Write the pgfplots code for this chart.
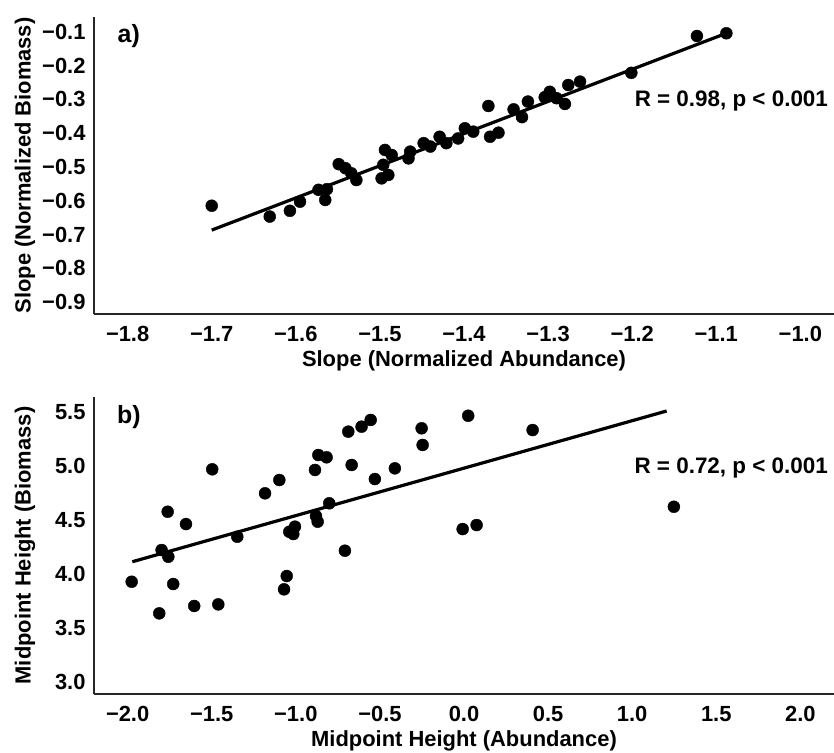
\documentclass[border=0pt]{standalone}
\usepackage{fontspec}
\setmainfont{Liberation Sans}
\usepackage{pgfplots}
\usepackage{pgfplotstable}
\pgfplotsset{compat=1.18}

\pgfplotstableread{
x y
-1.700 -0.619
-1.631 -0.651
-1.607 -0.634
-1.595 -0.607
-1.573 -0.572
-1.565 -0.602
-1.563 -0.570
-1.549 -0.496
-1.541 -0.508
-1.534 -0.523
-1.528 -0.543
-1.498 -0.538
-1.496 -0.498
-1.494 -0.454
-1.490 -0.528
-1.486 -0.469
-1.466 -0.479
-1.464 -0.459
-1.448 -0.434
-1.440 -0.444
-1.429 -0.415
-1.421 -0.434
-1.407 -0.420
-1.399 -0.390
-1.389 -0.400
-1.371 -0.324
-1.369 -0.415
-1.359 -0.403
-1.341 -0.334
-1.331 -0.357
-1.324 -0.311
-1.304 -0.298
-1.298 -0.282
-1.290 -0.301
-1.280 -0.318
-1.276 -0.262
-1.262 -0.252
-1.201 -0.226
-1.123 -0.117
-1.088 -0.109
}\dataA

\pgfplotstableread{
x y
-1.976 3.915
-1.812 3.623
-1.798 4.208
-1.758 4.146
-1.762 4.562
-1.729 3.894
-1.653 4.448
-1.604 3.691
-1.497 4.954
-1.461 3.706
-1.348 4.331
-1.183 4.732
-1.098 4.855
-1.070 3.845
-1.054 3.968
-1.039 4.377
-1.015 4.356
-1.005 4.424
-0.886 4.948
-0.880 4.522
-0.870 4.470
-0.866 5.086
-0.817 5.065
-0.801 4.640
-0.708 4.202
-0.688 5.302
-0.668 4.994
-0.609 5.348
-0.555 5.410
-0.530 4.864
-0.411 4.963
-0.252 5.333
-0.246 5.179
-0.008 4.402
0.025 5.449
0.075 4.439
0.408 5.317
1.248 4.608
}\dataB

\newcommand{\ff}{\fontsize{22}{26}\selectfont\bfseries}
\newcommand{\fr}{\fontsize{22.5}{26}\selectfont\bfseries}
\newcommand{\fp}{\fontsize{25}{29}\selectfont\bfseries}

\begin{document}
\begin{tikzpicture}
\useasboundingbox (0,0) rectangle (834bp,753bp);
\pgfplotsset{myax/.style={
  width=740bp, height=297.6bp, scale only axis,
  axis x line=bottom, axis y line=left,
  axis line style={-, line width=1.6bp, color=black!85},
  every outer x axis line/.append style={-},
  every outer y axis line/.append style={-},
  major tick length=0pt,
  xtick style={draw=none}, ytick style={draw=none},
  tick label style={font=\ff, text=black},
  xticklabel style={anchor=base, yshift=-27.4bp},
  yticklabel style={anchor=east, xshift=-5bp, yshift=-1.5bp},
  label style={font=\ff, text=black},
  xlabel style={at={(axis description cs:0.5,-0.174)}, anchor=base},
  ylabel style={at={(axis description cs:-0.0858,0.5)}, anchor=base},
  clip=false,
}}
\begin{axis}[myax, at={(94bp,438.7bp)}, anchor=south west,
  xmin=-1.84, xmax=-0.96, ymin=-0.94, ymax=-0.06,
  xtick={-1.8,-1.7,-1.6,-1.5,-1.4,-1.3,-1.2,-1.1,-1.0},
  xticklabels={−1.8,−1.7,−1.6,−1.5,−1.4,−1.3,−1.2,−1.1,−1.0},
  ytick={-0.9,-0.8,-0.7,-0.6,-0.5,-0.4,-0.3,-0.2,-0.1},
  yticklabels={−0.9,−0.8,−0.7,−0.6,−0.5,−0.4,−0.3,−0.2,−0.1},
  xlabel={Slope (Normalized Abundance)},
  ylabel={Slope (Normalized Biomass)},
]
\addplot[only marks, mark=*, mark size=6bp, black] table[x=x,y=y] {\dataA};
\addplot[no marks, line width=3.2bp, black] coordinates {(-1.700,-0.691) (-1.088,-0.109)};
\node[anchor=base east, font=\fr, inner sep=0pt] at (axis cs:-0.967,-0.326) {R = 0.98, p < 0.001};
\node[anchor=base west, font=\fp, inner sep=0pt] at (axis cs:-1.812,-0.136) {a)};
\end{axis}

\begin{axis}[myax, at={(94bp,58.7bp)}, anchor=south west,
  xmin=-2.2, xmax=2.2, ymin=2.875, ymax=5.625,
  xtick={-2,-1.5,-1,-0.5,0,0.5,1,1.5,2},
  xticklabels={−2.0,−1.5,−1.0,−0.5,0.0,0.5,1.0,1.5,2.0},
  ytick={3,3.5,4,4.5,5,5.5},
  yticklabels={3.0,3.5,4.0,4.5,5.0,5.5},
  xlabel={Midpoint Height (Abundance)},
  ylabel={Midpoint Height (Biomass)},
]
\addplot[only marks, mark=*, mark size=6bp, black] table[x=x,y=y] {\dataB};
\addplot[no marks, line width=3.2bp, black] coordinates {(-1.972,4.100) (1.205,5.493)};
\node[anchor=base east, font=\fr, inner sep=0pt] at (axis cs:2.164,4.917) {R = 0.72, p < 0.001};
\node[anchor=base west, font=\fp, inner sep=0pt] at (axis cs:-2.063,5.374) {b)};
\end{axis}
\end{tikzpicture}
\end{document}
